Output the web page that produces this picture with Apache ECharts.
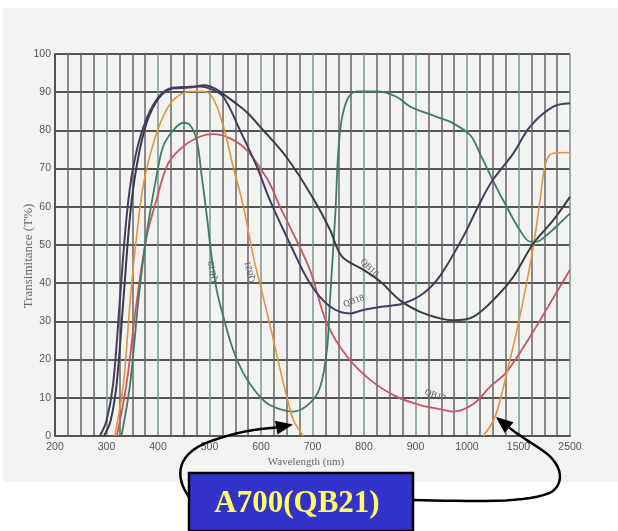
<!DOCTYPE html>
<html><head><meta charset="utf-8">
<script src="https://cdn.jsdelivr.net/npm/echarts@6/dist/echarts.min.js"></script>
<style>
html,body{margin:0;padding:0;background:#fff;}
#wrap{position:relative;width:618px;height:531px;overflow:hidden;}
#bg{position:absolute;left:3px;top:8px;width:615px;height:474px;background:#f3f3f3;}
#chart{position:absolute;left:0;top:0;width:618px;height:531px;}
</style></head><body>
<div id="wrap"><div id="bg"></div><div id="chart"></div></div>
<script>
// ---- data ----
const tickLabels = ['200','300','400','500','600','700','800','900','1000','1500','2500'];

const qb18Wl = [287,300,313,326,339,352,372,397,423,462,482,507,527,559,592,617,656,695,734,773,799,838,876,915,948,992,1125,1250,1450,1725,2175,2500];
const qb18T  = [0,4,13.8,35.6,57.4,70.5,81,88,91,91.4,91.5,90.6,88.8,80.1,70.5,61.8,50.4,40,33.9,32.1,33,33.9,34.7,37.3,42,52,61,67,74,81,86.2,87.1];

const qb16Wl = [295,308,320,333,346,359,378,402,430,462,490,510,527,550,572,600,650,700,734,757,799,831,870,909,948,973,1061,1288,1450,1788,2175,2500];
const qb16T  = [0,4,14,36,58,71,82,88.5,91,91.2,91.8,91,89.5,87.2,84.8,80.7,72.9,62.5,54,47,43.5,40.5,35.5,32.5,30.8,30.3,31.2,36.5,41.7,50.4,56.5,62.6];

const qb21VisWl = [316,333,346,359,372,391,410,430,462,488,507,527,546,566,585,605,621,637,650,663,682];
const qb21VisT  = [0,13.8,35.6,53,66.1,76.6,83.6,88,90.2,90.2,88.4,81,70.5,60,47,36,27,17.5,10.3,4.2,0];
const qb21IrWl  = [1159,1272,1385,1525,1788,1918,2015,2100,2175,2500];
const qb21IrT   = [0,5,16.4,31.2,49.6,61.8,70.9,73.5,74,74.2];

const qb19Wl = [329,346,362,378,397,410,430,449,462,475,485,495,504,514,527,546,566,592,617,663,695,715,728,734,744,753,767,786,825,863,890,922,948,967,1029,1125,1250,1385,1525,1725,1850,2050,2300,2500];
const qb19T  = [0,13.8,35.6,53,67.9,75.8,80.1,82,81.4,77.5,67.9,57.4,47,38.2,31.2,22.5,16.4,11.2,8.1,6.4,8.6,12.9,22.5,35.6,57.4,79.2,88,90.2,90.2,88.8,86.2,84.5,83.2,82.3,78.8,74,67,60,53.9,50.9,50.9,52.6,55.7,58.3];

const qb17Wl = [320,339,359,378,397,420,449,482,507,540,572,605,617,637,656,695,728,767,812,863,909,948,973,1061,1225,1385,1725,2112,2500];
const qb17T  = [0,13.8,35.6,52.2,61.8,71.4,75.8,78.4,79,77.9,74.9,68.8,66.1,60,54.8,43.5,29.5,20.8,14.7,10.3,8.1,7,6.4,8.4,12.9,16.8,26,34.7,43.5];

// curve name labels: [text, wavelength, T, rotation deg]
const curveLabels = [
  ['QB19', 507, 43, 100],
  ['QB21', 579, 43, 104],
  ['QB16', 810, 44, -45],
  ['QB18', 780, 35.3, 20],
  ['QB17', 938, 10.6, -20]
];
const calloutText = 'A700(QB21)';

// ---- axis mapping (non-uniform wavelength scale) ----
function toPos(w){
  if (w <= 1000) return (w - 200) / 25;
  if (w <= 1500) return 32 + (w - 1000) / 125;
  return 36 + (w - 1500) / 250;
}
function pts(wl, t){ return wl.map((w,i)=>[toPos(w), t[i]]); }

const chart = echarts.init(document.getElementById('chart'), null, {renderer:'canvas'});
const tickFont = '"Liberation Sans", Arial, sans-serif';

function line(name, data, color, width){
  return {name, type:'line', data, showSymbol:false, smooth:0.35, silent:true,
    lineStyle:{color, width}, z:3};
}

chart.setOption({
  backgroundColor:'transparent',
  animation:false,
  grid:{left:55, right:48, top:54, bottom:95, containLabel:false},
  xAxis:{type:'value', min:0, max:40, interval:1,
    axisLine:{show:true, onZero:false, lineStyle:{color:'#555', width:2}},
    axisTick:{show:false},
    axisLabel:{formatter:v=> (v%4===0 ? tickLabels[v/4] : ''), color:'#555', fontSize:10.5, fontFamily:tickFont, margin:6},
    splitLine:{show:true, lineStyle:{color:['#7a9a8a','#666','#666','#666'], width:1.5}}
  },
  yAxis:{type:'value', min:0, max:100, interval:10,
    axisLine:{show:true, lineStyle:{color:'#555', width:2}},
    axisTick:{show:false},
    axisLabel:{color:'#555', fontSize:10.5, fontFamily:tickFont, margin:4},
    splitLine:{show:true, lineStyle:{color:'#555', width:2}}
  },
  series:[
    line('QB17', pts(qb17Wl, qb17T), '#cc5560', 1.8),
    line('QB19', pts(qb19Wl, qb19T), '#3e7d62', 1.8),
    line('QB21', pts(qb21VisWl, qb21VisT), '#e8923a', 1.6),
    line('QB21b', pts(qb21IrWl, qb21IrT), '#e8923a', 1.6),
    line('QB16', pts(qb16Wl, qb16T), '#3b3b45', 2),
    line('QB18', pts(qb18Wl, qb18T), '#443d62', 2)
  ]
});

const P = (w,t)=> chart.convertToPixel({gridIndex:0}, [toPos(w), t]);

function arrowHead(tip, from, len, half){
  const dx = tip[0]-from[0], dy = tip[1]-from[1];
  const d = Math.hypot(dx,dy); const ux = dx/d, uy = dy/d;
  const bx = tip[0]-ux*len, by = tip[1]-uy*len;
  return {pts:[[tip[0],tip[1]],[bx - uy*half, by + ux*half],[bx + uy*half, by - ux*half]], base:[bx,by]};
}
function cubic(p0,p1,p2,p3,n){
  const out=[];
  for(let i=0;i<=n;i++){
    const t=i/n, a=(1-t)*(1-t)*(1-t), b=3*(1-t)*(1-t)*t, c=3*(1-t)*t*t, d=t*t*t;
    out.push([a*p0[0]+b*p1[0]+c*p2[0]+d*p3[0], a*p0[1]+b*p1[1]+c*p2[1]+d*p3[1]]);
  }
  return out;
}

const tipL = P(662, 3);
const tipR = P(1281, 5);
const hl = arrowHead(tipL, [268, 429], 17, 7);
const hr = arrowHead(tipR, [512, 430], 17, 7);

const elements = [];
curveLabels.forEach(([txt,w,t,rot])=>{
  const p = P(w,t);
  elements.push({type:'text', x:p[0], y:p[1], rotation:rot*Math.PI/180, z:10,
    style:{text:txt, font:'9px "Liberation Serif", serif', fill:'#555', textAlign:'center', textVerticalAlign:'middle'}});
});
elements.push({type:'text', x:29, y:256, rotation:Math.PI/2, z:10,
  style:{text:'Transimitance (T%)', font:'13px "Liberation Serif", serif', fill:'#666', textAlign:'center', textVerticalAlign:'middle'}});
elements.push({type:'text', x:306, y:462, z:10,
  style:{text:'Wavelength (nm)', font:'11px "Liberation Serif", serif', fill:'#666', textAlign:'center', textVerticalAlign:'middle'}});

// left arrow
const leftPath = cubic([189,497],[174,476],[176,452],[214,440],16)
  .concat(cubic([214,440],[238,432],[255,429],hl.base,12).slice(1));
elements.push({type:'polyline', z:20, shape:{points:leftPath}, style:{stroke:'#000', lineWidth:2.5, fill:null}});
elements.push({type:'polygon', z:20, shape:{points:hl.pts}, style:{fill:'#000'}});

// right arrow
const rightPath = cubic([412,500],[470,501],[532,504],[553,491],16)
  .concat(cubic([553,491],[566,480],[560,462],[542,450],12).slice(1))
  .concat(cubic([542,450],[530,442],[520,436],hr.base,10).slice(1));
elements.push({type:'polyline', z:20, shape:{points:rightPath}, style:{stroke:'#000', lineWidth:2.5, fill:null}});
elements.push({type:'polygon', z:20, shape:{points:hr.pts}, style:{fill:'#000'}});

// callout box
elements.push({type:'rect', z:25, shape:{x:189, y:473, width:224, height:58},
  style:{fill:'#3333cc', stroke:'#000', lineWidth:2.5}});
elements.push({type:'text', z:26, x:297, y:504,
  style:{text:calloutText, font:'bold 31px "Liberation Serif", "Times New Roman", serif', fill:'#ffff66', textAlign:'center', textVerticalAlign:'middle'}});

chart.setOption({graphic:{elements}});
</script>
</body></html>
